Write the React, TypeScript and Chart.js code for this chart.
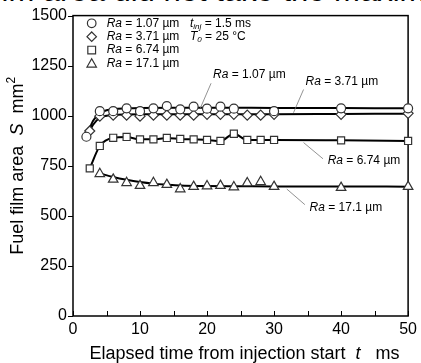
import React, { useEffect, useRef } from "react";
import { Chart, registerables } from "chart.js";

Chart.register(...registerables);

// ---- data ----
const circleT = [2, 4, 6, 8, 10, 12, 14, 16, 18, 20, 22, 24, 30, 40, 50];
const circleS = [895, 1023, 1023, 1037, 1023, 1037, 1048, 1032, 1045, 1035, 1045, 1035, 1023, 1037, 1037];
const circleFitT = [2, 3, 4, 5, 6, 8, 10, 15, 20, 30, 40, 50];
const circleFitS = [895, 975, 1012, 1027, 1033, 1037, 1039, 1040, 1040, 1039, 1038, 1037];

const diamondT = [2.5, 4, 6, 8, 10, 12, 14, 16, 18, 20, 22, 24, 26, 28, 30, 40, 50];
const diamondS = [924, 998, 1003, 1003, 998, 1003, 1003, 1003, 1003, 1007, 1007, 1007, 1003, 1003, 1007, 1007, 1012];
const diamondFitT = [2.5, 3, 4, 5, 6, 8, 10, 20, 30, 40, 50];
const diamondFitS = [924, 955, 990, 1000, 1004, 1006, 1007, 1008, 1008, 1009, 1010];

const squareT = [2.5, 4, 6, 8, 10, 12, 14, 16, 18, 20, 22, 24, 26, 28, 30, 40, 50];
const squareS = [737, 849, 890, 894, 882, 882, 889, 884, 882, 879, 874, 910, 879, 879, 879, 877, 874];

const triT = [4, 6, 8, 10, 12, 14, 16, 18, 20, 22, 24, 26, 28, 30, 40, 50];
const triS = [710, 682, 665, 651, 665, 656, 634, 646, 649, 651, 644, 664, 670, 646, 641, 646];
const triFitT = [4, 6, 8, 10, 12, 14, 16, 20, 25, 30, 40, 50];
const triFitS = [712, 694, 680, 669, 661, 656, 652, 649, 648, 647, 647, 646];

const xTicks = [0, 10, 20, 30, 40, 50];
const yTicks = [0, 250, 500, 750, 1000, 1250, 1500];

const legendValues = ["1.07", "3.71", "6.74", "17.1"];
const legendShapes = ["circle", "rectRot", "rect", "triangle"];

const annotValues = ["1.07", "3.71", "6.74", "17.1"];
const annotTextX = [20.9, 34.7, 38.0, 35.3];
const annotTextY = [1205, 1172, 775, 543];
const leaderFromX = [20.6, 34.4, 37.3, 34.6];
const leaderFromY = [1162, 1131, 785, 556];
const leaderToX = [19.0, 32.9, 34.4, 31.9];
const leaderToY = [1038, 1015, 866, 634];

const FONT = "'Liberation Sans', Arial, sans-serif";

const pts = (xs: number[], ys: number[]) => xs.map((x, i) => ({ x, y: ys[i] }));

function drawShape(ctx: CanvasRenderingContext2D, shape: string, x: number, y: number, r: number) {
  ctx.beginPath();
  if (shape === "circle") {
    ctx.arc(x, y, r, 0, Math.PI * 2);
  } else if (shape === "rect") {
    const s = r * 0.9;
    ctx.rect(x - s, y - s, 2 * s, 2 * s);
  } else if (shape === "rectRot") {
    ctx.moveTo(x, y - r * 1.1);
    ctx.lineTo(x + r * 1.1, y);
    ctx.lineTo(x, y + r * 1.1);
    ctx.lineTo(x - r * 1.1, y);
    ctx.closePath();
  } else {
    const h = r * 1.1;
    ctx.moveTo(x, y - h);
    ctx.lineTo(x + h, y + h * 0.75);
    ctx.lineTo(x - h, y + h * 0.75);
    ctx.closePath();
  }
  ctx.fillStyle = "#fff";
  ctx.fill();
  ctx.lineWidth = 1.2;
  ctx.strokeStyle = "#333";
  ctx.stroke();
}

type Part = { t: string; f: string; dy?: number };

function drawParts(ctx: CanvasRenderingContext2D, parts: Part[], x: number, y: number, align: "left" | "center") {
  ctx.textAlign = "left";
  let total = 0;
  for (const p of parts) {
    ctx.font = p.f;
    total += ctx.measureText(p.t).width;
  }
  let cx = align === "center" ? x - total / 2 : x;
  for (const p of parts) {
    ctx.font = p.f;
    ctx.fillText(p.t, cx, y + (p.dy || 0));
    cx += ctx.measureText(p.t).width;
  }
}

const decor = {
  id: "decor",
  beforeDatasetsDraw(chart: any) {
    const { ctx, chartArea: a } = chart;
    ctx.save();
    ctx.strokeStyle = "#000";
    ctx.lineWidth = 1.5;
    ctx.strokeRect(a.left, a.top, a.right - a.left, a.bottom - a.top);
    const xs = chart.scales.x;
    const ys = chart.scales.y;
    ctx.lineWidth = 1;
    ctx.beginPath();
    for (let v = 0; v <= 50; v += 5) {
      const px = Math.round(xs.getPixelForValue(v)) + 0.5;
      ctx.moveTo(px, a.bottom);
      ctx.lineTo(px, a.bottom - 5);
    }
    for (const v of yTicks) {
      const py = Math.round(ys.getPixelForValue(v)) + 0.5;
      ctx.moveTo(a.left, py);
      ctx.lineTo(a.left - 5, py);
    }
    ctx.stroke();
    ctx.restore();
  },
  afterDraw(chart: any) {
    const { ctx, chartArea: a } = chart;
    const xs = chart.scales.x;
    const ys = chart.scales.y;
    ctx.save();
    ctx.fillStyle = "#000";
    ctx.textBaseline = "middle";
    const n = `12px ${FONT}`;
    const it = `italic 12px ${FONT}`;
    const sub = `italic 8px ${FONT}`;
    // legend
    legendValues.forEach((v, i) => {
      const y = a.top + 7.7 + i * 13.4;
      drawShape(ctx, legendShapes[i], a.left + 18.7, y, 4.3);
      ctx.fillStyle = "#000";
      drawParts(ctx, [{ t: "Ra", f: it }, { t: ` = ${v} µm`, f: n }], a.left + 33.7, y, "left");
    });
    drawParts(ctx, [{ t: "t", f: it }, { t: "inj", f: sub, dy: 3 }, { t: " = 1.5 ms", f: n }], a.left + 117, a.top + 7.7, "left");
    drawParts(ctx, [{ t: "T", f: it }, { t: "0", f: sub, dy: 3 }, { t: " = 25 °C", f: n }], a.left + 117, a.top + 21.1, "left");
    // annotations
    ctx.strokeStyle = "#777";
    ctx.lineWidth = 0.8;
    annotValues.forEach((v, i) => {
      ctx.beginPath();
      ctx.moveTo(xs.getPixelForValue(leaderFromX[i]), ys.getPixelForValue(leaderFromY[i]));
      ctx.lineTo(xs.getPixelForValue(leaderToX[i]), ys.getPixelForValue(leaderToY[i]));
      ctx.stroke();
      drawParts(ctx, [{ t: "Ra", f: it }, { t: ` = ${v} µm`, f: n }], xs.getPixelForValue(annotTextX[i]), ys.getPixelForValue(annotTextY[i]), "left");
    });
    // axis titles
    ctx.textBaseline = "alphabetic";
    const tf = `18px ${FONT}`;
    const tfi = `italic 18px ${FONT}`;
    drawParts(
      ctx,
      [{ t: "Elapsed time from injection start  ", f: tf }, { t: "t", f: tfi }, { t: "   ms", f: tf }],
      (a.left + a.right) / 2 + 4,
      359,
      "center"
    );
    ctx.translate(23, (a.top + a.bottom) / 2);
    ctx.rotate(-Math.PI / 2);
    drawParts(
      ctx,
      [{ t: "Fuel film area  ", f: tf }, { t: "S", f: tfi }, { t: "  mm", f: tf }, { t: "2", f: `12px ${FONT}`, dy: -8 }],
      0,
      0,
      "center"
    );
    ctx.restore();
  },
};

export default function App() {
  const ref = useRef<HTMLCanvasElement | null>(null);
  useEffect(() => {
    if (!ref.current) return;
    const markerBase = {
      showLine: false,
      backgroundColor: "#fff",
      borderColor: "#333",
      pointBorderWidth: 1.2,
      pointRadius: 4.5,
      clip: false as any,
      order: 0,
    };
    const lineBase = {
      showLine: true,
      borderColor: "#000",
      borderWidth: 2,
      pointRadius: 0,
      tension: 0.4,
      cubicInterpolationMode: "monotone" as const,
      clip: false as any,
      order: 1,
    };
    const chart = new Chart(ref.current, {
      type: "scatter",
      data: {
        datasets: [
          { ...lineBase, data: pts(circleFitT, circleFitS) },
          { ...lineBase, data: pts(diamondFitT, diamondFitS) },
          { ...lineBase, data: pts(squareT, squareS) },
          { ...lineBase, data: pts(triFitT, triFitS) },
          { ...markerBase, pointStyle: "circle", data: pts(circleT, circleS) },
          { ...markerBase, pointStyle: "rectRot", pointRadius: 5, data: pts(diamondT, diamondS) },
          { ...markerBase, pointStyle: "rect", pointRadius: 5, data: pts(squareT, squareS) },
          { ...markerBase, pointStyle: "triangle", pointRadius: 5.5, data: pts(triT, triS) },
        ],
      },
      options: {
        animation: false,
        responsive: false,
        devicePixelRatio: 1,
        layout: { padding: { top: 14, right: 8, left: 0, bottom: 0 } },
        plugins: { legend: { display: false }, tooltip: { enabled: false } },
        scales: {
          x: {
            type: "linear",
            min: 0,
            max: 50,
            afterFit: (s: any) => {
              s.height = 47;
            },
            afterBuildTicks: (s: any) => {
              s.ticks = xTicks.map((v) => ({ value: v }));
            },
            grid: { display: false, drawTicks: false },
            border: { display: false },
            ticks: {
              padding: 4,
              color: "#000",
              font: { family: FONT, size: 16 },
              maxRotation: 0,
              callback: (v: any) => String(v),
            },
          },
          y: {
            type: "linear",
            min: 0,
            max: 1500,
            afterFit: (s: any) => {
              s.width = 73;
            },
            afterBuildTicks: (s: any) => {
              s.ticks = yTicks.map((v) => ({ value: v }));
            },
            grid: { display: false, drawTicks: false },
            border: { display: false },
            ticks: {
              padding: 6,
              color: "#000",
              font: { family: FONT, size: 16 },
              callback: (v: any) => String(v),
            },
          },
        },
      },
      plugins: [decor],
    });
    return () => chart.destroy();
  }, []);
  return (
    <div style={{ position: "fixed", left: 0, top: 0, width: 421, height: 363, background: "#fff", overflow: "hidden" }}>
      <div
        style={{
          position: "absolute",
          left: -14,
          top: -25,
          fontFamily: FONT,
          fontSize: 31,
          lineHeight: "31px",
          whiteSpace: "nowrap",
          color: "#000",
        }}
      >
        film area did not take the maximum
      </div>
      <canvas ref={ref} width={421} height={363} style={{ position: "absolute", left: 0, top: 0 }} />
    </div>
  );
}
